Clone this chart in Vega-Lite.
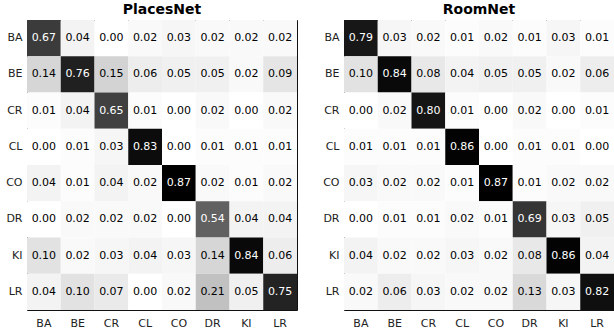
{
  "$schema": "https://vega.github.io/schema/vega-lite/v6.json",
  "autosize": {"type": "pad"},
  "padding": {"left": 4, "top": 2, "right": 0, "bottom": 0},
  "background": "white",
  "bounds": "flush",
  "spacing": 47,
  "config": {
    "font": "DejaVu Sans",
    "view": {"stroke": "#111", "strokeWidth": 1},
    "title": {"font": "DejaVu Sans", "fontSize": 14, "fontWeight": "bold", "color": "#000", "anchor": "middle", "baseline": "alphabetic", "offset": 3},
    "axis": {"labelFont": "DejaVu Sans", "labelFontSize": 11, "labelColor": "#222", "ticks": false, "domain": false, "grid": false, "title": null}
  },
  "datasets": {
    "places": [
      {"r":"BA","c":"BA","v":0.67},{"r":"BA","c":"BE","v":0.04},{"r":"BA","c":"CR","v":0.00},{"r":"BA","c":"CL","v":0.02},{"r":"BA","c":"CO","v":0.03},{"r":"BA","c":"DR","v":0.02},{"r":"BA","c":"KI","v":0.02},{"r":"BA","c":"LR","v":0.02},
      {"r":"BE","c":"BA","v":0.14},{"r":"BE","c":"BE","v":0.76},{"r":"BE","c":"CR","v":0.15},{"r":"BE","c":"CL","v":0.06},{"r":"BE","c":"CO","v":0.05},{"r":"BE","c":"DR","v":0.05},{"r":"BE","c":"KI","v":0.02},{"r":"BE","c":"LR","v":0.09},
      {"r":"CR","c":"BA","v":0.01},{"r":"CR","c":"BE","v":0.04},{"r":"CR","c":"CR","v":0.65},{"r":"CR","c":"CL","v":0.01},{"r":"CR","c":"CO","v":0.00},{"r":"CR","c":"DR","v":0.02},{"r":"CR","c":"KI","v":0.00},{"r":"CR","c":"LR","v":0.02},
      {"r":"CL","c":"BA","v":0.00},{"r":"CL","c":"BE","v":0.01},{"r":"CL","c":"CR","v":0.03},{"r":"CL","c":"CL","v":0.83},{"r":"CL","c":"CO","v":0.00},{"r":"CL","c":"DR","v":0.01},{"r":"CL","c":"KI","v":0.01},{"r":"CL","c":"LR","v":0.01},
      {"r":"CO","c":"BA","v":0.04},{"r":"CO","c":"BE","v":0.01},{"r":"CO","c":"CR","v":0.04},{"r":"CO","c":"CL","v":0.02},{"r":"CO","c":"CO","v":0.87},{"r":"CO","c":"DR","v":0.02},{"r":"CO","c":"KI","v":0.01},{"r":"CO","c":"LR","v":0.02},
      {"r":"DR","c":"BA","v":0.00},{"r":"DR","c":"BE","v":0.02},{"r":"DR","c":"CR","v":0.02},{"r":"DR","c":"CL","v":0.02},{"r":"DR","c":"CO","v":0.00},{"r":"DR","c":"DR","v":0.54},{"r":"DR","c":"KI","v":0.04},{"r":"DR","c":"LR","v":0.04},
      {"r":"KI","c":"BA","v":0.10},{"r":"KI","c":"BE","v":0.02},{"r":"KI","c":"CR","v":0.03},{"r":"KI","c":"CL","v":0.04},{"r":"KI","c":"CO","v":0.03},{"r":"KI","c":"DR","v":0.14},{"r":"KI","c":"KI","v":0.84},{"r":"KI","c":"LR","v":0.06},
      {"r":"LR","c":"BA","v":0.04},{"r":"LR","c":"BE","v":0.10},{"r":"LR","c":"CR","v":0.07},{"r":"LR","c":"CL","v":0.00},{"r":"LR","c":"CO","v":0.02},{"r":"LR","c":"DR","v":0.21},{"r":"LR","c":"KI","v":0.05},{"r":"LR","c":"LR","v":0.75}
    ],
    "room": [
      {"r":"BA","c":"BA","v":0.79},{"r":"BA","c":"BE","v":0.03},{"r":"BA","c":"CR","v":0.02},{"r":"BA","c":"CL","v":0.01},{"r":"BA","c":"CO","v":0.02},{"r":"BA","c":"DR","v":0.01},{"r":"BA","c":"KI","v":0.03},{"r":"BA","c":"LR","v":0.01},
      {"r":"BE","c":"BA","v":0.10},{"r":"BE","c":"BE","v":0.84},{"r":"BE","c":"CR","v":0.08},{"r":"BE","c":"CL","v":0.04},{"r":"BE","c":"CO","v":0.05},{"r":"BE","c":"DR","v":0.05},{"r":"BE","c":"KI","v":0.02},{"r":"BE","c":"LR","v":0.06},
      {"r":"CR","c":"BA","v":0.00},{"r":"CR","c":"BE","v":0.02},{"r":"CR","c":"CR","v":0.80},{"r":"CR","c":"CL","v":0.01},{"r":"CR","c":"CO","v":0.00},{"r":"CR","c":"DR","v":0.02},{"r":"CR","c":"KI","v":0.00},{"r":"CR","c":"LR","v":0.01},
      {"r":"CL","c":"BA","v":0.01},{"r":"CL","c":"BE","v":0.01},{"r":"CL","c":"CR","v":0.01},{"r":"CL","c":"CL","v":0.86},{"r":"CL","c":"CO","v":0.00},{"r":"CL","c":"DR","v":0.01},{"r":"CL","c":"KI","v":0.01},{"r":"CL","c":"LR","v":0.00},
      {"r":"CO","c":"BA","v":0.03},{"r":"CO","c":"BE","v":0.02},{"r":"CO","c":"CR","v":0.02},{"r":"CO","c":"CL","v":0.01},{"r":"CO","c":"CO","v":0.87},{"r":"CO","c":"DR","v":0.01},{"r":"CO","c":"KI","v":0.02},{"r":"CO","c":"LR","v":0.02},
      {"r":"DR","c":"BA","v":0.00},{"r":"DR","c":"BE","v":0.01},{"r":"DR","c":"CR","v":0.01},{"r":"DR","c":"CL","v":0.02},{"r":"DR","c":"CO","v":0.01},{"r":"DR","c":"DR","v":0.69},{"r":"DR","c":"KI","v":0.03},{"r":"DR","c":"LR","v":0.05},
      {"r":"KI","c":"BA","v":0.04},{"r":"KI","c":"BE","v":0.02},{"r":"KI","c":"CR","v":0.02},{"r":"KI","c":"CL","v":0.03},{"r":"KI","c":"CO","v":0.02},{"r":"KI","c":"DR","v":0.08},{"r":"KI","c":"KI","v":0.86},{"r":"KI","c":"LR","v":0.04},
      {"r":"LR","c":"BA","v":0.02},{"r":"LR","c":"BE","v":0.06},{"r":"LR","c":"CR","v":0.03},{"r":"LR","c":"CL","v":0.02},{"r":"LR","c":"CO","v":0.02},{"r":"LR","c":"DR","v":0.13},{"r":"LR","c":"KI","v":0.03},{"r":"LR","c":"LR","v":0.82}
    ]
  },
  "hconcat": [
    {
      "data": {"name": "places"},
      "title": "PlacesNet",
      "width": 270,
      "height": 290,
      "encoding": {
        "x": {"field": "c", "type": "nominal", "sort": ["BA","BE","CR","CL","CO","DR","KI","LR"], "scale": {"paddingInner": 0, "paddingOuter": 0}, "axis": {"orient": "bottom", "labelAngle": 0, "labelPadding": 7}},
        "y": {"field": "r", "type": "nominal", "sort": ["BA","BE","CR","CL","CO","DR","KI","LR"], "scale": {"paddingInner": 0, "paddingOuter": 0}, "axis": {"labelPadding": 5, "minExtent": 22, "maxExtent": 22}}
      },
      "layer": [
        {"mark": {"type": "rect"}, "encoding": {"color": {"field": "v", "type": "quantitative", "scale": {"domain": [0, 0.87], "range": ["#ffffff", "#000000"], "interpolate": "rgb", "clamp": true}, "legend": null}}},
        {"mark": {"type": "text", "fontSize": 11, "font": "DejaVu Sans"}, "encoding": {"text": {"field": "v", "type": "quantitative", "format": ".2f"}, "color": {"condition": {"test": "datum.v > 0.5", "value": "#ffffff"}, "value": "#000000"}}}
      ]
    },
    {
      "data": {"name": "room"},
      "title": "RoomNet",
      "width": 270,
      "height": 290,
      "encoding": {
        "x": {"field": "c", "type": "nominal", "sort": ["BA","BE","CR","CL","CO","DR","KI","LR"], "scale": {"paddingInner": 0, "paddingOuter": 0}, "axis": {"orient": "bottom", "labelAngle": 0, "labelPadding": 7}},
        "y": {"field": "r", "type": "nominal", "sort": ["BA","BE","CR","CL","CO","DR","KI","LR"], "scale": {"paddingInner": 0, "paddingOuter": 0}, "axis": {"labelPadding": 5, "minExtent": 22, "maxExtent": 22}}
      },
      "layer": [
        {"mark": {"type": "rect"}, "encoding": {"color": {"field": "v", "type": "quantitative", "scale": {"domain": [0, 0.87], "range": ["#ffffff", "#000000"], "interpolate": "rgb", "clamp": true}, "legend": null}}},
        {"mark": {"type": "text", "fontSize": 11, "font": "DejaVu Sans"}, "encoding": {"text": {"field": "v", "type": "quantitative", "format": ".2f"}, "color": {"condition": {"test": "datum.v > 0.5", "value": "#ffffff"}, "value": "#000000"}}}
      ]
    }
  ]
}
